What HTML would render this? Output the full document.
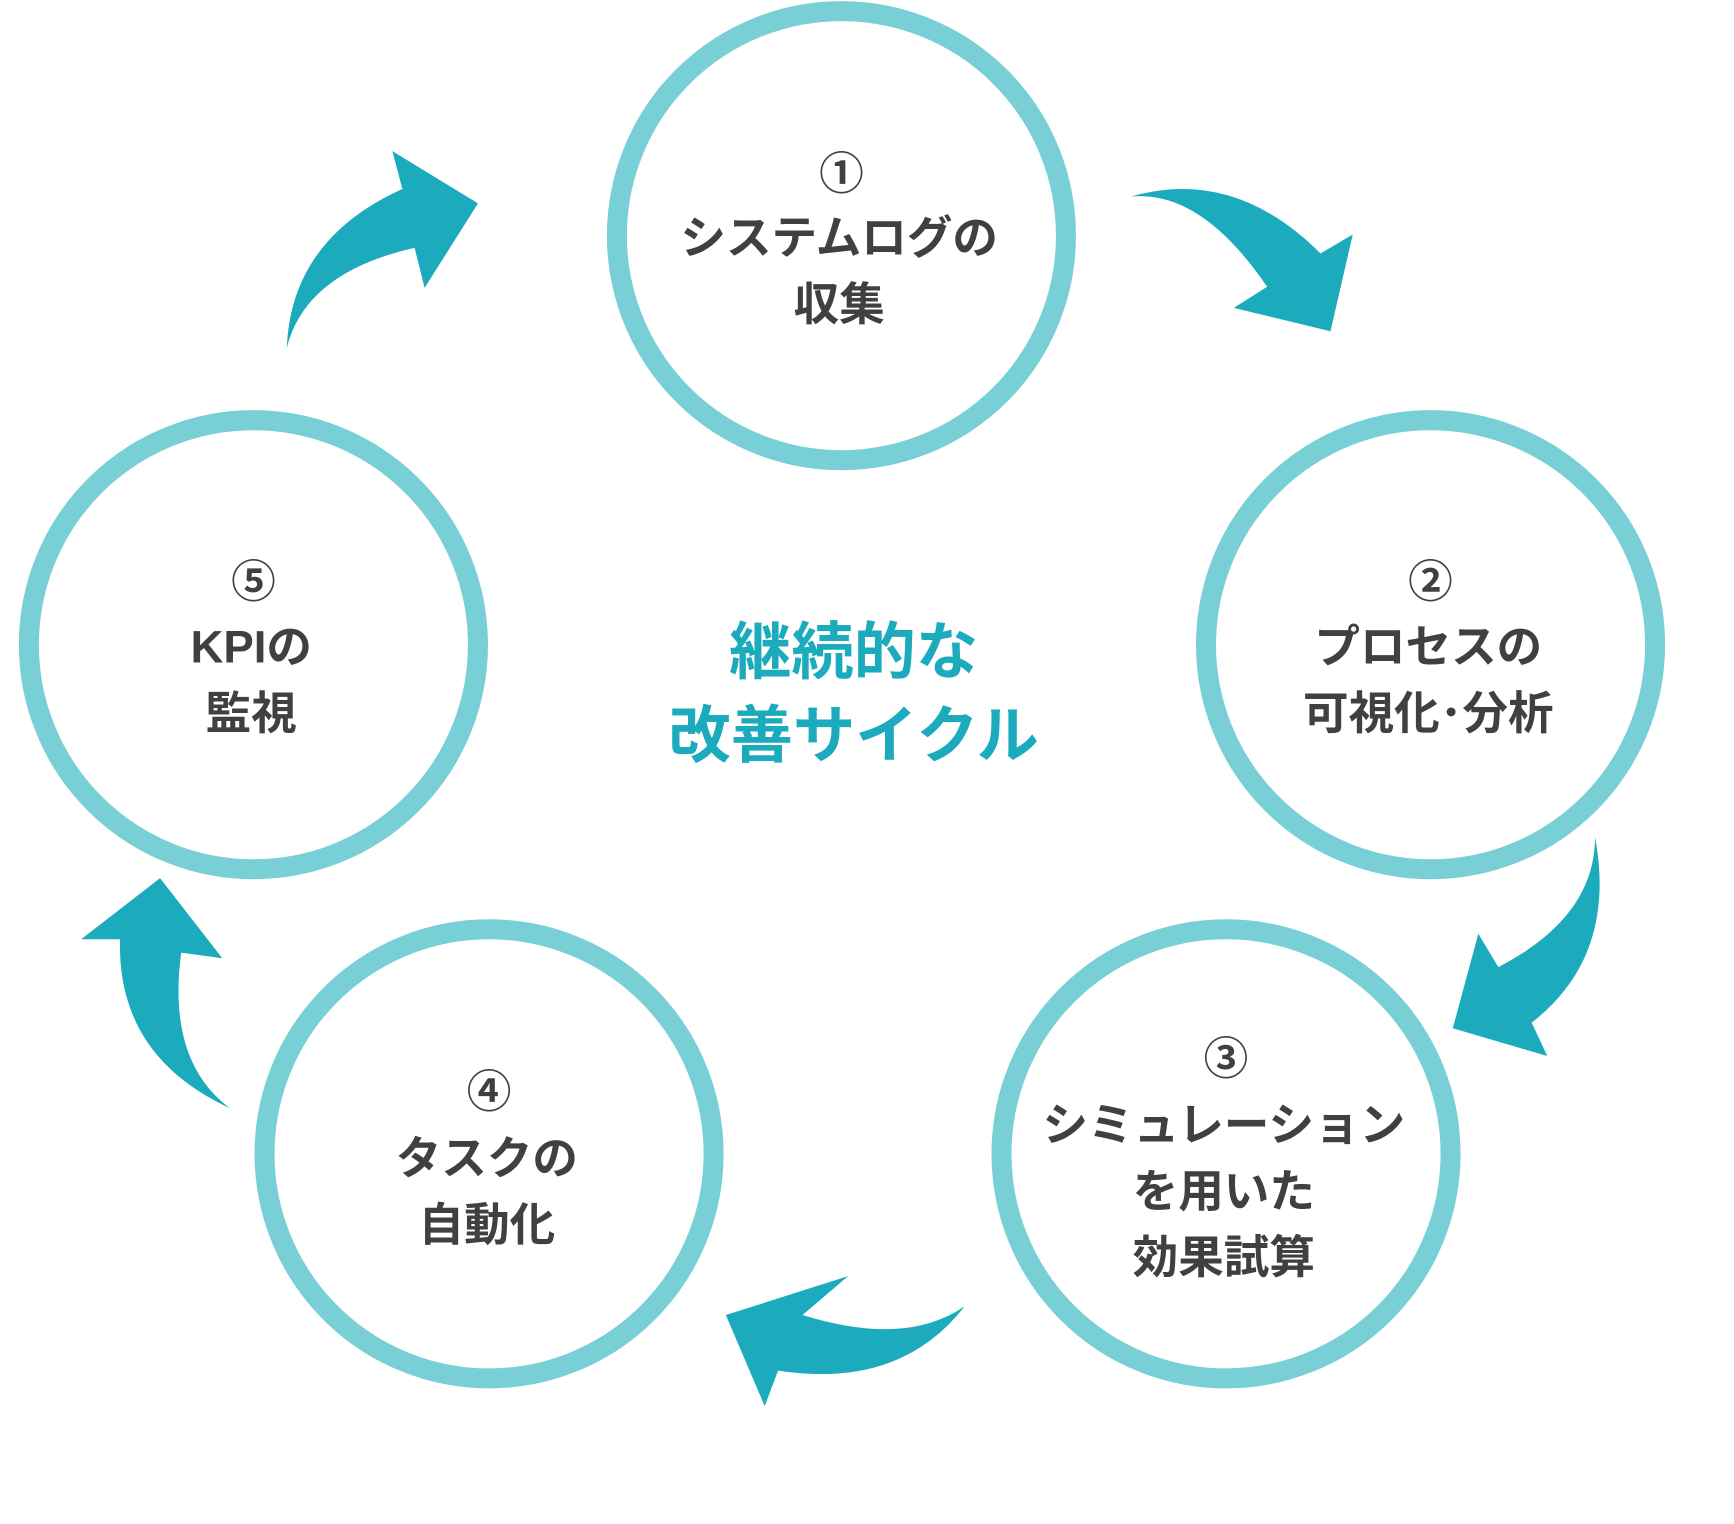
<!DOCTYPE html>
<html><head><meta charset="utf-8"><style>
html,body{margin:0;padding:0;background:#fff;width:1734px;height:1524px;overflow:hidden}
svg{display:block}
text{font-family:"Liberation Sans","Noto Sans CJK JP",sans-serif;font-weight:bold;text-anchor:middle}
.t{fill:#404040;font-size:41px}
.n{fill:#404040;font-size:40px;font-weight:bold}
.c{fill:#1CAABD;font-size:56px}
</style></head><body>
<svg width="1734" height="1524" viewBox="0 0 1560 1371" preserveAspectRatio="none">
<g fill="none" stroke="#79CFD6" stroke-width="18">
<circle cx="757" cy="212" r="202"/>
<circle cx="1287" cy="580" r="202"/>
<circle cx="1103" cy="1038" r="202"/>
<circle cx="440" cy="1038" r="202"/>
<circle cx="228" cy="580" r="202"/>
</g>
<g fill="#1CAABD">
<path d="M1017,177 Q1110,150 1188,228 L1217,211 L1197,298 L1110,277 L1140,258 Q1080,170 1017,177 Z"/>
<path d="M1435,753 Q1455,860 1378,920 L1392,950 L1307,925 L1330,840 L1348,870 Q1435,825 1435,753 Z"/>
<path d="M868,1175 Q810,1250 700,1233 L688,1265 L653,1183 L763,1148 L722,1183 Q815,1212 868,1175 Z"/>
<path d="M207,997 Q105,950 108,845 L73,845 L144,790 L200,862 L163,857 Q150,955 207,997 Z"/>
<path d="M258,313 Q262,215 362,170 L353,136 L430,183 L382,259 L373,223 Q275,245 258,313 Z"/>
</g>
<text class="n" x="757" y="170">①</text>
<text class="t" x="755" y="228">システムログの</text>
<text class="t" x="755" y="288">収集</text>
<text class="n" x="1287" y="537">②</text>
<text class="t" x="1285" y="596">プロセスの</text>
<text class="t" x="1285" y="656">可視化･分析</text>
<text class="n" x="1103" y="966">③</text>
<text class="t" x="1101" y="1026">シミュレーション</text>
<text class="t" x="1101" y="1086">を用いた</text>
<text class="t" x="1101" y="1145">効果試算</text>
<text class="n" x="440" y="996">④</text>
<text class="t" x="438" y="1056">タスクの</text>
<text class="t" x="438" y="1116">自動化</text>
<text class="n" x="228" y="537">⑤</text>
<text class="t" x="226" y="596">KPIの</text>
<text class="t" x="226" y="656">監視</text>
<text class="c" x="768" y="606">継続的な</text>
<text class="c" x="768" y="681">改善サイクル</text>
</svg>
</body></html>
